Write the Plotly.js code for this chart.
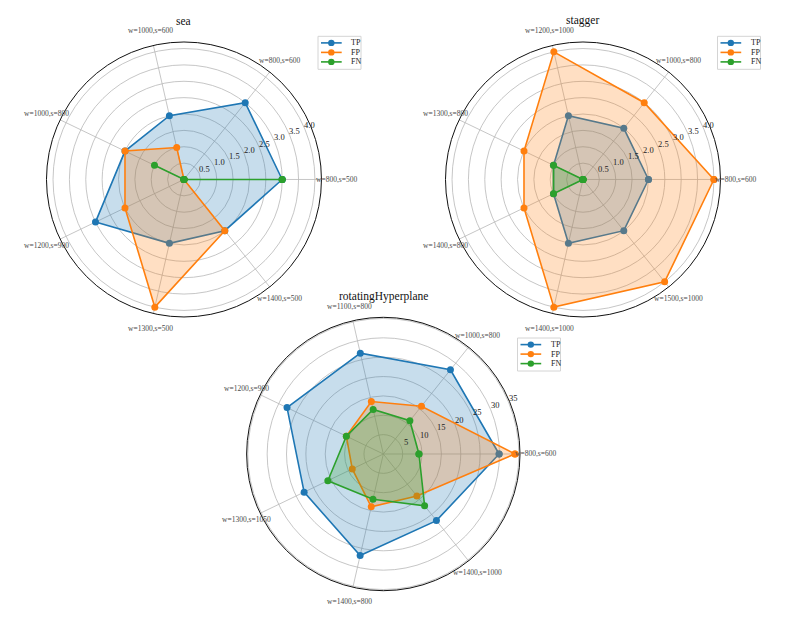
<!DOCTYPE html>
<html>
<head>
<meta charset="utf-8">
<script src="https://cdn.plot.ly/plotly-3.0.1.min.js"></script>
<style>html,body{margin:0;padding:0;background:#fff;}#chart{width:811px;height:622px;}</style>
</head>
<body>
<div id="chart"></div>
<script>
// ---- data ----
const seaCategories = ["w=800,s=500","w=800,s=600","w=1000,s=600","w=1000,s=800","w=1200,s=900","w=1300,s=500","w=1400,s=500"];
const seaTP = [3, 3, 2, 2, 3, 2, 2];
const seaFP = [0, 0, 1, 2, 2, 4, 2];
const seaFN = [3, 0, 0, 1, 0, 0, 0];

const staggerCategories = ["w=800,s=600","w=1000,s=800","w=1200,s=1000","w=1300,s=800","w=1400,s=800","w=1400,s=1000","w=1500,s=1000"];
const staggerTP = [2, 2, 2, 1, 1, 2, 2];
const staggerFP = [4, 3, 4, 2, 2, 4, 4];
const staggerFN = [0, 0, 0, 1, 1, 0, 0];

const rotCategories = ["w=800,s=600","w=1000,s=800","w=1100,s=800","w=1200,s=900","w=1300,s=1050","w=1400,s=800","w=1400,s=1000"];
const rotTP = [29.9, 27.8, 26.7, 27.6, 22.7, 26.9, 22.0];
const rotFP = [34.0, 15.8, 13.9, 10.6, 8.9, 14.0, 13.9];
const rotFN = [9.2, 11.0, 11.8, 10.6, 15.9, 12.0, 17.1];

const seriesNames = ["TP", "FP", "FN"];
const seaTicks = [0.5, 1.0, 1.5, 2.0, 2.5, 3.0, 3.5, 4.0];
const rotTicks = [5, 10, 15, 20, 25, 30, 35];
const titles = ["sea", "stagger", "rotatingHyperplane"];

// ---- styling ----
const W = 811, H = 622;
const colors = ["#1f77b4", "#ff7f0e", "#2ca02c"];
const fills = ["rgba(31,119,180,0.25)", "rgba(255,127,14,0.25)", "rgba(44,160,44,0.25)"];
const FONT = "Liberation Serif, Times New Roman, serif";
const px = x => x / W;
const py = y => 1 - y / H;

function close(a) { return a.concat([a[0]]); }

const traces = [];
const annotations = [];
const shapes = [];

function addChart(c) {
  c.series.forEach((vals, i) => {
    traces.push({
      type: "scatterpolar",
      r: close(vals),
      theta: close(c.cats),
      name: seriesNames[i],
      mode: "lines+markers",
      fill: "toself",
      fillcolor: fills[i],
      line: {color: colors[i], width: 1.6},
      marker: {color: colors[i], size: 7},
      subplot: c.polarId,
      showlegend: false
    });
  });
  // geometry of the polar domain in pixels
  const x0 = c.domX[0] * W, x1 = c.domX[1] * W;
  const y0 = (1 - c.domY[1]) * H, y1 = (1 - c.domY[0]) * H;
  const cx = (x0 + x1) / 2, cy = (y0 + y1) / 2;
  const R = Math.min(x1 - x0, y1 - y0) / 2;
  // category labels, centred just outside the circle
  const n = c.cats.length;
  c.cats.forEach((lab, i) => {
    const a = i * 2 * Math.PI / n;
    const rl = R + 15;
    annotations.push({
      text: lab, x: px(cx + rl * Math.cos(a)), y: py(cy - rl * Math.sin(a)),
      xref: "paper", yref: "paper", xanchor: "center", yanchor: "middle",
      showarrow: false, font: {family: FONT, size: 7.5, color: "#4a4a4a"}
    });
  });
  // radial tick labels at 22.5 degrees
  const ta = 22.5 * Math.PI / 180;
  c.ticks.forEach(v => {
    const r = v / c.rmax * R;
    annotations.push({
      text: c.fmt(v), x: px(cx + r * Math.cos(ta) + 5), y: py(cy - r * Math.sin(ta) - 4.5),
      xref: "paper", yref: "paper", xanchor: "center", yanchor: "middle",
      showarrow: false, font: {family: FONT, size: 8.5, color: "#222"}
    });
  });
  // title
  annotations.push({
    text: c.title, x: px(cx), y: py(c.titleY), xref: "paper", yref: "paper",
    xanchor: "center", yanchor: "middle", showarrow: false,
    font: {family: FONT, size: 11.5, color: "#111"}
  });
  // legend box
  const [lx, ly] = c.legendBox;
  const lw = 43, lh = 33;
  shapes.push({type: "rect", xref: "paper", yref: "paper",
    x0: px(lx), x1: px(lx + lw), y0: py(ly), y1: py(ly + lh),
    line: {color: "#d4d4d4", width: 1}, fillcolor: "rgba(255,255,255,0.85)", layer: "above"});
  seriesNames.forEach((nm, i) => {
    const yy = ly + 6.6 + i * 9.5;
    shapes.push({type: "line", xref: "paper", yref: "paper",
      x0: px(lx + 3), x1: px(lx + 23.7), y0: py(yy), y1: py(yy),
      line: {color: colors[i], width: 1.6}, layer: "above"});
    shapes.push({type: "circle", xref: "paper", yref: "paper",
      x0: px(lx + 13.3 - 3.2), x1: px(lx + 13.3 + 3.2), y0: py(yy - 3.2), y1: py(yy + 3.2),
      line: {color: colors[i], width: 0}, fillcolor: colors[i], layer: "above"});
    annotations.push({text: nm, x: px(lx + 31), y: py(yy), xref: "paper", yref: "paper",
      xanchor: "left", yanchor: "middle", showarrow: false,
      font: {family: FONT, size: 8, color: "#222"}});
  });
}

function polarCfg(xd, yd, rmax, ticks) {
  return {
    domain: {x: xd, y: yd},
    bgcolor: "white",
    radialaxis: {
      range: [0, rmax], tickvals: ticks, showticklabels: false,
      showline: false, ticks: "", gridcolor: "#b8b8b8", gridwidth: 0.8
    },
    angularaxis: {
      type: "category", rotation: 0, direction: "counterclockwise",
      showline: true, linecolor: "#111", linewidth: 1,
      gridcolor: "#b8b8b8", gridwidth: 0.8, ticks: "", showticklabels: false
    }
  };
}

const charts = [
  {cats: seaCategories, series: [seaTP, seaFP, seaFN], polarId: "polar",
   domX: [0.0573, 0.3964], domY: [0.4904, 0.9325], rmax: 4.2, ticks: seaTicks,
   fmt: v => v.toFixed(1), title: titles[0], titleY: 21, legendBox: [318, 36.3]},
  {cats: staggerCategories, series: [staggerTP, staggerFP, staggerFN], polarId: "polar2",
   domX: [0.5493, 0.8884], domY: [0.4904, 0.9325], rmax: 4.2, ticks: seaTicks,
   fmt: v => v.toFixed(1), title: titles[1], titleY: 21, legendBox: [717.5, 36.3]},
  {cats: rotCategories, series: [rotTP, rotFP, rotFN], polarId: "polar3",
   domX: [0.3041, 0.6412], domY: [0.0503, 0.4899], rmax: 35.3, ticks: rotTicks,
   fmt: v => String(v), title: titles[2], titleY: 296, legendBox: [517.5, 338]}
];
charts.forEach(addChart);

const layout = {
  width: W, height: H,
  margin: {l: 0, r: 0, t: 0, b: 0},
  paper_bgcolor: "white",
  showlegend: false,
  font: {family: FONT},
  polar: polarCfg(charts[0].domX, charts[0].domY, charts[0].rmax, charts[0].ticks),
  polar2: polarCfg(charts[1].domX, charts[1].domY, charts[1].rmax, charts[1].ticks),
  polar3: polarCfg(charts[2].domX, charts[2].domY, charts[2].rmax, charts[2].ticks),
  annotations: annotations,
  shapes: shapes
};

Plotly.newPlot("chart", traces, layout, {displayModeBar: false, staticPlot: true});
</script>
</body>
</html>
